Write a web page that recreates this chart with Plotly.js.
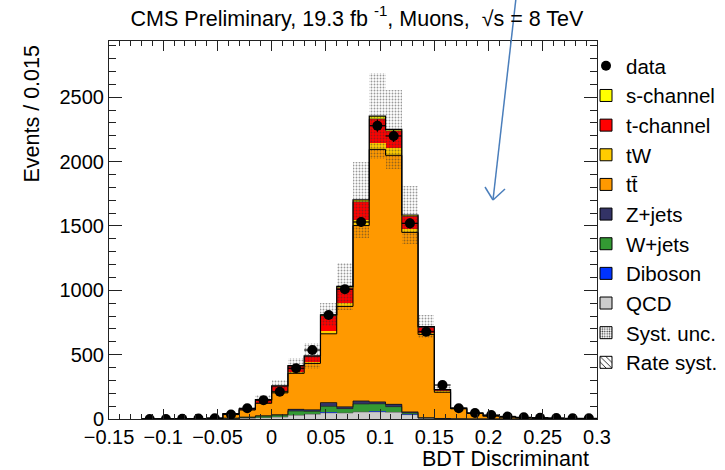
<!DOCTYPE html>
<html><head><meta charset="utf-8">
<script src="https://cdn.plot.ly/plotly-3.0.1.min.js"></script>
<style>html,body{margin:0;padding:0;background:#fff}</style>
</head><body><div id="chart" style="width:725px;height:470px"></div>
<script>
// ---- data ----
const binCenters = [-0.1125,-0.0975,-0.0825,-0.0675,-0.0525,-0.0375,-0.0225,-0.0075,0.0075,0.0225,0.0375,0.0525,0.0675,0.0825,0.0975,0.1125,0.1275,0.1425,0.1575,0.1725,0.1875,0.2025,0.2175,0.2325,0.2475,0.2625,0.2775,0.2925];
const binWidth = 0.015;
const dataCounts = [0,0,1,3,6,35,83,146,212,394,536,808,1008,1531,2279,2199,1520,678,264,83,46,31,20,13,10,7,5,5];
const qcd      = [0,0,0,0,1,3,5,10,15,28,37,48,47,55,56,52,34,5,2,1,0,0,0,0,0,0,0,0];
const diboson  = [0,0,0,0,0,0,1,1,2,2,2,3,3,3,3,3,2,1,0,0,0,0,0,0,0,0,0,0];
const wjets    = [0,0,0,0,1,3,7,12,14,32,20,47,31,59,59,41,11,2,1,0,0,0,0,0,0,0,0,0];
const zjets    = [0,0,0,0,0,0,1,2,2,13,13,30,14,23,15,18,8,2,1,0,0,0,0,0,0,0,0,0];
const ttbar    = [0,0.5,1,3,4,32,56,97,170,280,360,534,780,1363,1962,1935,1395,647,204,78,43,24,16,10,7,5,3,2];
const tW       = [0,0,0,0,0,1,2,6,12,12,12,20,30,45,52,60,27,14,6,2,1,0,0,0,0,0,0,0];
const tChannel = [0,0,0,0,0,3,5,20,40,43,42,120,115,140,185,130,98,40,12,3,1,1,0,0,0,0,0,0];
const sChannel = [0,0,0,0,0,0.5,1,2,3,5,4,8,10,14,22,12,10,6,2,1,0,0,0,0,0,0,0,0];
const systUnc  = [0,0,0,0,2,8,15,36,45,62,98,89,180,296,337,305,225,91,25,10,5,3,2,1,1,0,0,0];

const components = [
  {name:'QCD',       vals:qcd,      color:'#cccccc', rank:9},
  {name:'Diboson',   vals:diboson,  color:'#0033ff', rank:8},
  {name:'W+jets',    vals:wjets,    color:'#339933', rank:7},
  {name:'Z+jets',    vals:zjets,    color:'#333366', rank:6},
  {name:'tt\u0304',  vals:ttbar,    color:'#ff9900', rank:5},
  {name:'tW',        vals:tW,       color:'#ffcc00', rank:4},
  {name:'t-channel', vals:tChannel, color:'#ff0000', rank:3},
  {name:'s-channel', vals:sChannel, color:'#ffff00', rank:2}
];

const traces = [];
let cum = binCenters.map(() => 0);
const tops = [];
components.forEach(c => {
  traces.push({type:'bar', x:binCenters, y:c.vals, base:cum.slice(), width:binWidth,
    marker:{color:c.color, line:{width:0}}, showlegend:false, hoverinfo:'skip'});
  cum = cum.map((v, i) => v + c.vals[i]);
  tops.push(cum.slice());
});
const total = cum.slice();

// outlines (step lines)
const edges = binCenters.map(c => c - binWidth/2).concat([binCenters[binCenters.length-1] + binWidth/2]);
function stepTrace(vals, w, col) {
  return {type:'scatter', mode:'lines', x:edges, y:vals.concat([vals[vals.length-1]]),
    line:{shape:'hv', width:w, color:col}, showlegend:false, hoverinfo:'skip'};
}
traces.push(stepTrace(tops[0], 0.6, '#555'));
traces.push(stepTrace(tops[2], 0.7, '#222'));
traces.push(stepTrace(tops[3], 0.8, '#111'));
traces.push(stepTrace(tops[4], 1, '#000'));
traces.push(stepTrace(tops[6], 0.7, '#333'));
traces.push(stepTrace(total, 1.2, '#000'));

// systematic band
traces.push({type:'bar', x:binCenters, y:systUnc.map(u => 2*u), base:total.map((t,i) => t - systUnc[i]),
  width:binWidth, marker:{color:'rgba(0,0,0,0)', line:{width:0},
  pattern:{shape:'.', fgcolor:'#333', bgcolor:'rgba(0,0,0,0)', fillmode:'overlay', size:3, solidity:0.3}},
  showlegend:false, hoverinfo:'skip'});

// data
traces.push({type:'scatter', mode:'markers', name:'data', x:binCenters, y:dataCounts,
  marker:{color:'#000', size:10},
  error_y:{type:'data', array:dataCounts.map(v => Math.sqrt(v)), color:'#000', thickness:1.2, width:0},
  error_x:{type:'constant', value:binWidth/2, color:'#000', thickness:1.2, width:0},
  legendrank:1, legendgroup:'g_data'});

// legend entries
components.slice().reverse().forEach(c => {
  traces.push({type:'bar', x:[null], y:[null], name:c.name, marker:{color:c.color, line:{width:1, color:'#000'}},
    legendrank:c.rank, legendgroup:'g_'+c.name});
});
traces.push({type:'bar', x:[null], y:[null], name:'Syst. unc.', legendrank:10, legendgroup:'g_syst',
  marker:{color:'#fff', line:{width:1, color:'#000'}, pattern:{shape:'.', fgcolor:'#333', bgcolor:'#fff', size:3, solidity:0.3}}});
traces.push({type:'bar', x:[null], y:[null], name:'Rate syst.', legendrank:11, legendgroup:'g_rate',
  marker:{color:'#fff', line:{width:1, color:'#000'}, pattern:{shape:'\\', fgcolor:'#000', bgcolor:'#fff', size:5, solidity:0.2}}});

const px = p => (p - 109) / 488;
const py = p => (419 - p) / 378;
const arrowCol = '#4a7ebb';

const layout = {
  width:725, height:470,
  margin:{l:109, r:128, t:41, b:51, autoexpand:false},
  paper_bgcolor:'#fff', plot_bgcolor:'#fff',
  font:{family:'"Liberation Sans", Arial, sans-serif', color:'#000', size:20},
  barmode:'overlay', bargap:0,
  title:{text:'CMS Preliminary, 19.3 fb <sup>-1</sup>, Muons,  \u221As = 8 TeV', x:px(357), xref:'paper', xanchor:'center',
    y:1 - 18/470, yref:'container', yanchor:'middle', font:{size:21.5, color:'#000'}},
  xaxis:{range:[-0.15,0.3], dtick:0.05, tick0:0, ticks:'inside', ticklen:10, tickcolor:'#222', tickwidth:1,
    showline:true, linecolor:'#222', linewidth:1, mirror:'allticks', showgrid:false, zeroline:false,
    minor:{ticks:'inside', dtick:0.01, tick0:0, ticklen:5, tickcolor:'#222', showgrid:false},
    tickfont:{size:20}},
  yaxis:{range:[0,2937], dtick:500, tick0:0, ticks:'inside', ticklen:13, tickcolor:'#222', tickwidth:1,
    showline:true, linecolor:'#222', linewidth:1, mirror:'allticks', showgrid:false, zeroline:false,
    minor:{ticks:'inside', dtick:100, ticklen:7, tickcolor:'#222', showgrid:false},
    tickfont:{size:20}},
  legend:{x:px(586), xanchor:'left', y:py(46), yanchor:'top', font:{size:20.5}, bgcolor:'rgba(0,0,0,0)',
    borderwidth:0, traceorder:'grouped', tracegroupgap:0, itemwidth:30},
  annotations:[
    {text:'Events / 0.015', textangle:-90, xref:'paper', yref:'paper', x:px(32), y:py(44), xanchor:'center', yanchor:'top',
      showarrow:false, font:{size:21.5}},
    {text:'BDT Discriminant', xref:'paper', yref:'paper', x:px(591), y:py(459), xanchor:'right', yanchor:'middle',
      showarrow:false, font:{size:21.5}}
  ],
  shapes:[
    {type:'line', xref:'paper', yref:'paper', x0:px(516), y0:py(-2), x1:px(493), y1:py(200), line:{color:arrowCol, width:1.5}},
    {type:'line', xref:'paper', yref:'paper', x0:px(485), y0:py(187), x1:px(493), y1:py(200), line:{color:arrowCol, width:1.5}},
    {type:'line', xref:'paper', yref:'paper', x0:px(505), y0:py(189), x1:px(493), y1:py(200), line:{color:arrowCol, width:1.5}}
  ],
  showlegend:true
};

Plotly.newPlot('chart', traces, layout, {displayModeBar:false, staticPlot:true});
</script></body></html>
